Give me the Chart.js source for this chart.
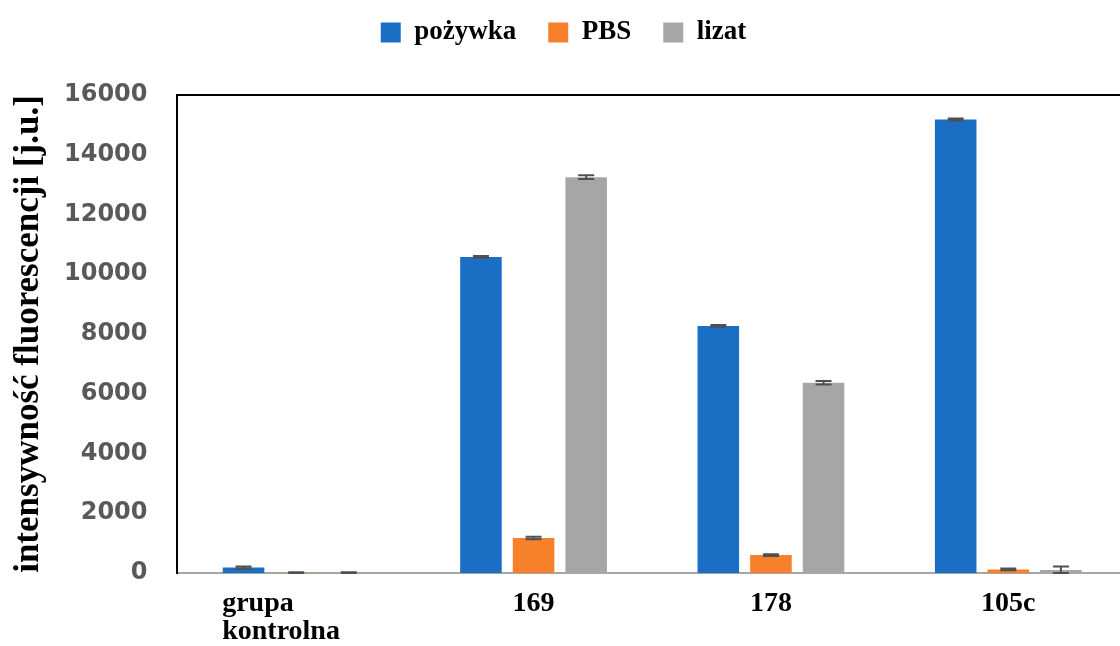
<!DOCTYPE html>
<html>
<head>
<meta charset="utf-8">
<script src="https://cdn.jsdelivr.net/npm/chart.js@4.4.1/dist/chart.umd.min.js"></script>
<style>
  html, body { margin: 0; padding: 0; background: #fff; overflow: hidden; }
</style>
</head>
<body>
<canvas id="fluoChart" width="1127" height="646"></canvas>
<script>
// kategorie na osi X
const grupy = [['grupa', 'kontrolna'], '169', '178', '105c'];

// średnie intensywności fluorescencji [j.u.] i odchylenia
const pozywka = [180, 10580, 8270, 15180];
const pozywkaErr = [40, 30, 30, 30];
const pbs = [8, 1170, 600, 120];
const pbsErr = [15, 40, 30, 30];
const lizat = [6, 13250, 6370, 100];
const lizatErr = [15, 60, 60, 120];

const yMin = 0;
const yMax = 16000;
const yStep = 2000;

const serif = '"Liberation Serif", "Times New Roman", serif';

// odsuwa wykres od legendy
const legendSpacer = {
    id: 'legendSpacer',
    beforeInit(chart) {
        const fit = chart.legend.fit;
        chart.legend.fit = function () {
            fit.bind(chart.legend)();
            this.height += 39;
        };
    }
};

// słupki błędów + górna ramka + podpisy osi X
const extras = {
    id: 'extras',
    afterDatasetsDraw(chart) {
        const ctx = chart.ctx;
        const y = chart.scales.y;
        ctx.save();
        ctx.strokeStyle = '#505050';
        ctx.lineWidth = 2;
        chart.data.datasets.forEach((ds, d) => {
            const meta = chart.getDatasetMeta(d);
            meta.data.forEach((bar, i) => {
                const v = ds.data[i];
                const e = ds.errors[i];
                const top = y.getPixelForValue(v + e);
                const bot = y.getPixelForValue(Math.max(v - e, 0));
                ctx.beginPath();
                ctx.moveTo(bar.x, top);
                ctx.lineTo(bar.x, bot);
                ctx.moveTo(bar.x - 8, top);
                ctx.lineTo(bar.x + 8, top);
                ctx.moveTo(bar.x - 8, bot);
                ctx.lineTo(bar.x + 8, bot);
                ctx.stroke();
            });
        });
        ctx.restore();
    },
    afterDraw(chart) {
        const ctx = chart.ctx;
        const area = chart.chartArea;
        const x = chart.scales.x;
        ctx.save();
        ctx.strokeStyle = '#000';
        ctx.lineWidth = 2;
        ctx.beginPath();
        ctx.moveTo(area.left - 1, area.top);
        ctx.lineTo(area.right, area.top);
        ctx.stroke();

        ctx.fillStyle = '#000';
        ctx.font = 'bold 28px ' + serif;
        ctx.textBaseline = 'alphabetic';
        grupy.forEach((lab, i) => {
            const px = x.getPixelForTick(i);
            if (Array.isArray(lab)) {
                ctx.textAlign = 'left';
                lab.forEach((line, k) => ctx.fillText(line, px - 74, area.bottom + 38 + k * 28));
            } else {
                ctx.textAlign = 'center';
                ctx.fillText(lab, px, area.bottom + 38);
            }
        });
        ctx.restore();
    }
};

const ctx = document.getElementById('fluoChart').getContext('2d');
new Chart(ctx, {
    type: 'bar',
    data: {
        labels: grupy,
        datasets: [
            { label: 'pożywka', data: pozywka, errors: pozywkaErr, backgroundColor: '#1a6fc4' },
            { label: 'PBS', data: pbs, errors: pbsErr, backgroundColor: '#f7802a' },
            { label: 'lizat', data: lizat, errors: lizatErr, backgroundColor: '#a6a6a6' }
        ]
    },
    options: {
        responsive: false,
        animation: false,
        devicePixelRatio: 1,
        categoryPercentage: 0.665,
        barPercentage: 0.79,
        layout: { padding: { top: -13, left: 0, right: 0, bottom: 73 } },
        plugins: {
            legend: {
                position: 'top',
                labels: {
                    boxWidth: 20,
                    boxHeight: 20,
                    padding: 32,
                    color: '#000',
                    font: { family: serif, size: 27, weight: 'bold' }
                }
            },
            tooltip: { enabled: false }
        },
        scales: {
            x: {
                offset: true,
                grid: { display: false, drawTicks: false },
                border: { display: true, color: '#a6a6a6', width: 2 },
                ticks: { display: false }
            },
            y: {
                min: yMin,
                max: yMax,
                grid: { display: false, drawTicks: false },
                border: { display: true, color: '#000', width: 2 },
                ticks: {
                    stepSize: yStep,
                    padding: 30,
                    color: '#595959',
                    font: { family: '"DejaVu Sans", sans-serif', size: 24, weight: 'bold' },
                    callback: (v) => String(v)
                },
                title: {
                    display: true,
                    text: 'intensywność fluorescencji [j.u.]',
                    color: '#000',
                    padding: { top: 8, bottom: -16 },
                    font: { family: serif, size: 35, weight: 'bold' }
                }
            }
        }
    },
    plugins: [legendSpacer, extras]
});
</script>
</body>
</html>
